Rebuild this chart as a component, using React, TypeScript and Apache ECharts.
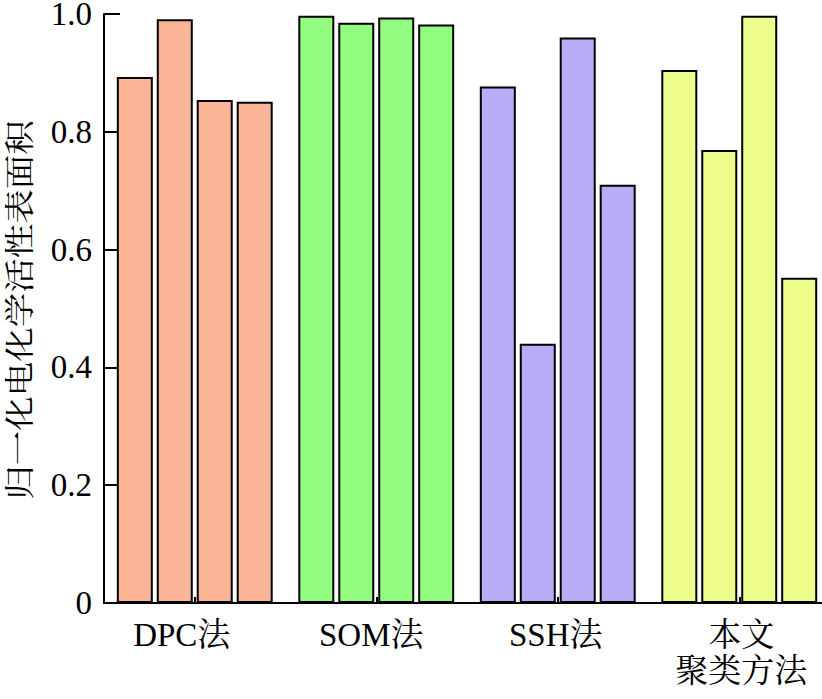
import React, { useEffect, useRef } from "react";
import * as echarts from "echarts";

const categories = ["DPC法", "SOM法", "SSH法", "本文\n聚类方法"];
const categoryColors = ["#F9B596", "#91FC7F", "#B8ADF6", "#EEFC8C"];
// values per bar index (series) across the four methods
const series1 = [0.893, 0.997, 0.877, 0.905];
const series2 = [0.991, 0.985, 0.44, 0.769];
const series3 = [0.854, 0.994, 0.96, 0.997];
const series4 = [0.851, 0.982, 0.71, 0.552];
const yAxisTitle = "归一化电化学活性表面积";

const FONT = "'Liberation Serif', 'Times New Roman', 'Noto Serif CJK SC', 'Noto Sans CJK SC', serif";

export default function App() {
  const ref = useRef<HTMLDivElement>(null);
  useEffect(() => {
    document.body.style.margin = "0";
    if (!ref.current) return;
    const chart = echarts.init(ref.current, null, { renderer: "svg" });
    const allSeries = [series1, series2, series3, series4].map((vals, si) => ({
      type: "bar",
      name: "s" + si,
      barWidth: 36,
      barGap: "11%",
      data: vals.map((v, ci) => ({
        value: v,
        itemStyle: { color: categoryColors[ci], borderColor: "#000", borderWidth: 2 },
      })),
    }));
    const labelStyle = { fontFamily: FONT, fontSize: 33, color: "#000", lineHeight: 36 };
    chart.setOption({
      animation: false,
      grid: { left: 104, top: 14, bottom: 96, right: -8, outerBoundsMode: "none", containLabel: false },
      xAxis: {
        type: "category",
        data: categories,
        axisLine: { lineStyle: { color: "#000", width: 2 } },
        axisTick: { show: true, inside: true, alignWithLabel: true, length: 6, lineStyle: { color: "#000", width: 2 } },
        axisLabel: {
          color: "#000",
          fontFamily: FONT,
          fontSize: 33,
          margin: 14,
          lineHeight: 36,
          interval: 0,
          formatter: (v: string, i: number) => {
            const key = ["a", "b", "c", "d"][i] || "d";
            return v
              .split("\n")
              .map((line) => `{${key}|${line}}`)
              .join("\n");
          },
          rich: {
            a: { ...labelStyle, padding: [0, 26, 0, 0] },
            b: { ...labelStyle, padding: [0, 10, 0, 0] },
            c: { ...labelStyle, padding: [0, 4, 0, 0] },
            d: { ...labelStyle, padding: [0, 0, 0, 4] },
          },
        },
      },
      yAxis: {
        type: "value",
        min: 0,
        max: 1,
        interval: 0.2,
        splitLine: { show: false },
        axisLine: { show: true, lineStyle: { color: "#000", width: 2 } },
        axisTick: { show: true, inside: true, length: 16, lineStyle: { color: "#000", width: 2 } },
        axisLabel: {
          color: "#000",
          fontFamily: FONT,
          fontSize: 33,
          lineHeight: 26,
          margin: 12,
          formatter: (v: number) => (v === 0 ? "0" : v.toFixed(1)),
        },
      },
      graphic: [
        {
          type: "text",
          x: 20,
          y: 310,
          rotation: Math.PI / 2,
          scaleX: 1.15,
          style: {
            text: yAxisTitle,
            fontFamily: FONT,
            fontSize: 30,
            fill: "#000",
            align: "center",
            verticalAlign: "middle",
          },
        },
      ],
      series: allSeries,
    });
    return () => chart.dispose();
  }, []);
  return <div ref={ref} style={{ width: 822, height: 699 }} />;
}
